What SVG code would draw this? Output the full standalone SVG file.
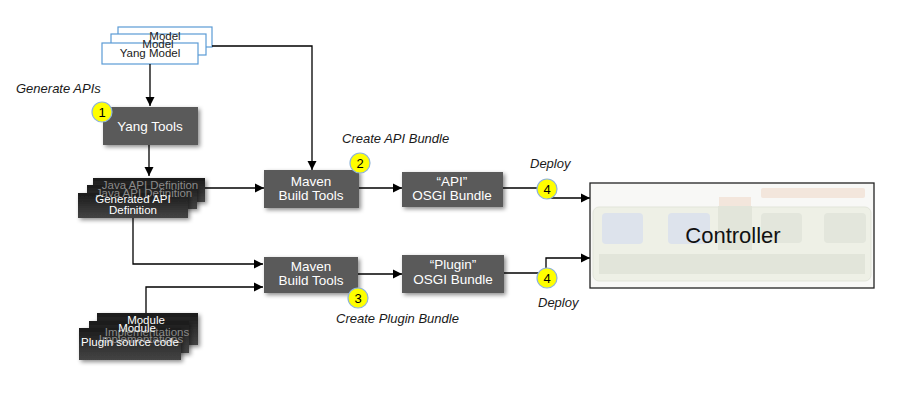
<svg xmlns="http://www.w3.org/2000/svg" width="899" height="403" viewBox="0 0 899 403">
<defs>
<style>
.t{font-family:"Liberation Sans",Arial,sans-serif;}
.box{fill:#5a5a5a;}
.bt{fill:#ffffff;font-size:13.5px;text-anchor:middle;font-family:"Liberation Sans",Arial,sans-serif;}
.st{fill:#ffffff;font-size:11.5px;text-anchor:middle;font-family:"Liberation Sans",Arial,sans-serif;}
.gt{fill:#8a8a8a;font-size:11.5px;text-anchor:middle;font-family:"Liberation Sans",Arial,sans-serif;}
.lbl{font-family:"Liberation Sans",Arial,sans-serif;font-style:italic;font-size:13px;fill:#1a1a1a;}
.ym{fill:#ffffff;stroke:#5b9bd5;stroke-width:1.2;}
.ymt{font-family:"Liberation Sans",Arial,sans-serif;font-size:11.5px;fill:#1a1a1a;text-anchor:middle;}
.num{fill:#ffff00;stroke:#8fb4d8;stroke-width:1.2;}
.numt{font-family:"Liberation Sans",Arial,sans-serif;font-size:13px;fill:#000;text-anchor:middle;}
.c{fill:none;stroke:#000;stroke-width:1.3;}
.ca{fill:none;stroke:#000;stroke-width:1.3;marker-end:url(#ah);}
.sb{fill:url(#dg);}
</style>
<marker id="ah" viewBox="0 0 10 10" refX="10" refY="5" markerWidth="9" markerHeight="10" markerUnits="userSpaceOnUse" orient="auto">
<path d="M0,0 L10,5 L0,10 z" fill="#000"/>
</marker>
<linearGradient id="dg" x1="0" y1="0" x2="0" y2="1">
<stop offset="0" stop-color="#1a1a1a"/>
<stop offset="1" stop-color="#444444"/>
</linearGradient>
<filter id="sh" x="-20%" y="-30%" width="140%" height="170%">
<feGaussianBlur in="SourceAlpha" stdDeviation="2"/>
<feOffset dx="1.5" dy="2" result="b"/>
<feFlood flood-color="#000" flood-opacity="0.45"/>
<feComposite in2="b" operator="in"/>
<feMerge><feMergeNode/><feMergeNode in="SourceGraphic"/></feMerge>
</filter>
</defs>
<rect width="899" height="403" fill="#ffffff"/>

<g id="yang-model">
<rect class="ym" x="118" y="27" width="94" height="20"/>
<rect class="ym" x="111" y="34" width="95" height="21"/>
<rect class="ym" x="102" y="43" width="96" height="21"/>
<text class="ymt" x="165" y="40">Model</text>
<text class="ymt" x="158" y="48">Model</text>
<text class="ymt" x="150" y="57">Yang Model</text>
</g>

<g id="connectors">
<path class="ca" d="M150,64 V106"/>
<path class="ca" d="M212,46 H312 V170"/>
<path class="ca" d="M149,145 V176"/>
<path class="ca" d="M205,188 H264"/>
<path class="ca" d="M133,218 V264 H263"/>
<path class="ca" d="M146,313 V287 H263"/>
<path class="ca" d="M359,188 H402"/>
<path class="ca" d="M358,274 H402"/>
<path class="c" d="M503,188 H547"/>
<path class="ca" d="M547,198 H590"/>
<path class="c" d="M504,273 H547"/>
<path class="ca" d="M546,268 V258 H590"/>
</g>

<g id="yang-tools">
<rect class="box" x="103" y="107" width="95" height="38" filter="url(#sh)"/>
<text class="bt" x="150" y="131">Yang Tools</text>
</g>

<g id="java-api">
<rect class="sb" x="93" y="178" width="112" height="24" filter="url(#sh)"/>
<rect class="sb" x="87" y="185" width="110" height="24" filter="url(#sh)"/>
<rect class="sb" x="78" y="193" width="110" height="25" filter="url(#sh)"/>
<text class="gt" x="150" y="189">Java API Definition</text>
<text class="gt" x="144" y="197">Java API Definition</text>
<text class="st" x="133" y="203">Generated API</text>
<text class="st" x="133" y="214">Definition</text>
</g>

<g id="modules">
<rect class="sb" x="97" y="313" width="101" height="32" filter="url(#sh)"/>
<rect class="sb" x="89" y="321" width="100" height="32" filter="url(#sh)"/>
<rect class="sb" x="79" y="328" width="102" height="32" filter="url(#sh)"/>
<text class="st" x="146" y="324">Module</text>
<text class="gt" x="147" y="336">Implementations</text>
<text class="st" x="137" y="332">Module</text>
<text class="gt" x="141" y="343">Implementations</text>
<text class="st" x="130" y="346">Plugin source code</text>
</g>

<g id="maven-api">
<rect class="box" x="264" y="170" width="95" height="38" filter="url(#sh)"/>
<text class="bt" x="311" y="186">Maven</text>
<text class="bt" x="311" y="200">Build Tools</text>
</g>

<g id="maven-plugin">
<rect class="box" x="264" y="257" width="94" height="36" filter="url(#sh)"/>
<text class="bt" x="311" y="271">Maven</text>
<text class="bt" x="311" y="285">Build Tools</text>
</g>

<g id="api-bundle">
<rect class="box" x="402" y="172" width="101" height="35" filter="url(#sh)"/>
<text class="bt" x="452" y="186">“API”</text>
<text class="bt" x="452" y="200">OSGI Bundle</text>
</g>

<g id="plugin-bundle">
<rect class="box" x="402" y="255" width="102" height="38" filter="url(#sh)"/>
<text class="bt" x="453" y="269">“Plugin”</text>
<text class="bt" x="453" y="284">OSGI Bundle</text>
</g>

<g id="controller">
<rect x="590" y="183" width="284" height="105" fill="#f8f8f6" stroke="#222" stroke-width="1.3"/>
<rect x="761" y="188" width="104" height="10" rx="2" fill="#f3e6dc"/>
<rect x="719" y="197" width="32" height="10" fill="#f3e6dc"/>
<rect x="593" y="207" width="278" height="74" rx="6" fill="#eef0e6" stroke="#e2e5da" stroke-width="1"/>
<rect x="718" y="206" width="34" height="44" fill="#e2e5da"/>
<rect x="602" y="213" width="41" height="31" rx="4" fill="#dde3ec"/>
<rect x="668" y="213" width="42" height="31" rx="4" fill="#dde3ec"/>
<rect x="761" y="213" width="41" height="30" rx="4" fill="#e3e6dc"/>
<rect x="824" y="213" width="42" height="30" rx="4" fill="#e3e6dc"/>
<rect x="599" y="254" width="266" height="20" fill="#e2e5da"/>
<text class="t" x="733" y="243" font-size="22" text-anchor="middle" fill="#111">Controller</text>
</g>

<g id="steps">
<circle class="num" cx="102" cy="112" r="10"/>
<text class="numt" x="102" y="117">1</text>
<circle class="num" cx="360" cy="163" r="10"/>
<text class="numt" x="360" y="168">2</text>
<circle class="num" cx="358" cy="298" r="10"/>
<text class="numt" x="358" y="303">3</text>
<circle class="num" cx="547" cy="189" r="10"/>
<text class="numt" x="547" y="194">4</text>
<circle class="num" cx="547" cy="278" r="10"/>
<text class="numt" x="547" y="283">4</text>
</g>

<g id="labels">
<text class="lbl" x="16" y="93">Generate APIs</text>
<text class="lbl" x="342" y="143">Create API Bundle</text>
<text class="lbl" x="530" y="168">Deploy</text>
<text class="lbl" x="336" y="323">Create Plugin Bundle</text>
<text class="lbl" x="538" y="307">Deploy</text>
</g>
</svg>
